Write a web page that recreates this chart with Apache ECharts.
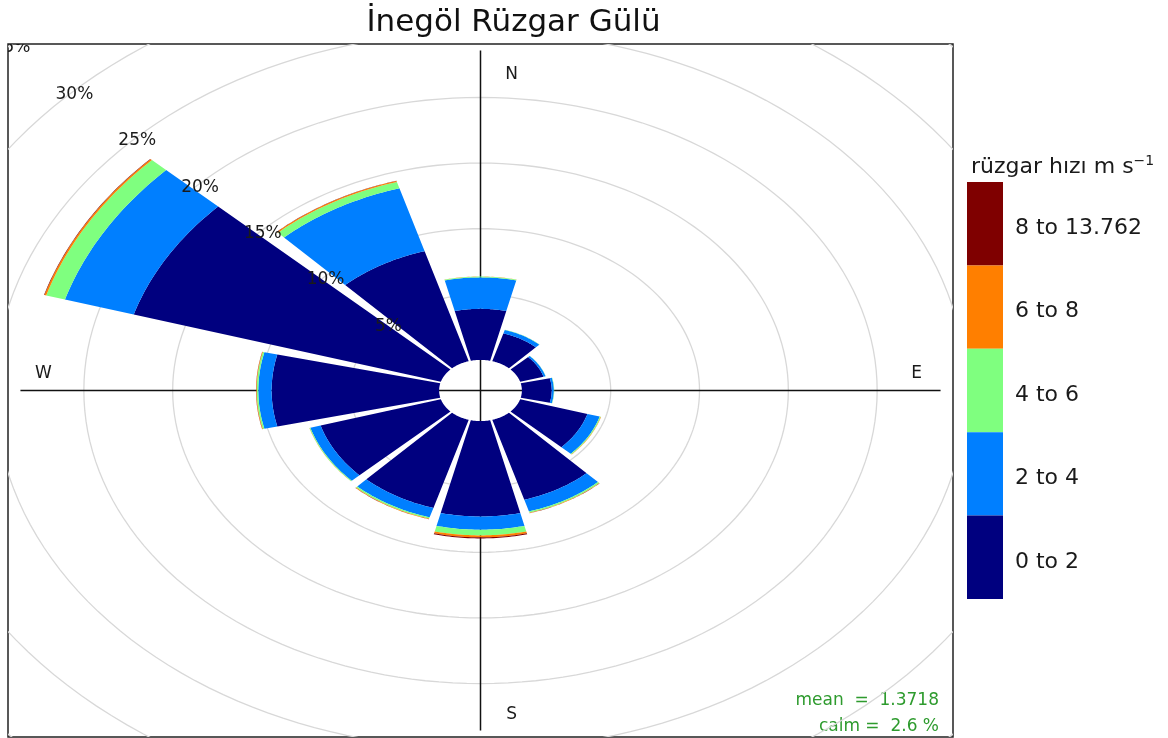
<!DOCTYPE html>
<html><head><meta charset="utf-8">
<script src="https://cdn.jsdelivr.net/npm/echarts@6/dist/echarts.min.js"></script>
<style>html,body{margin:0;padding:0;background:#fff}#c{width:1168px;height:738px}</style>
</head><body><div id="c"></div>
<script>
// ---------------- data ----------------
const directions = [0, 30, 60, 90, 120, 150, 180, 210, 240, 270, 300, 330];
const speedBands = ['0 to 2', '2 to 4', '4 to 6', '6 to 8', '8 to 13.762'];
const bandColors = ['#00007F', '#007FFF', '#7FFF7F', '#FF7F00', '#7F0000'];
// frequency (%) of each speed band per direction
const freq0to2 = [3.89, 2.20, 1.37, 1.68, 3.95, 6.35, 7.27, 7.00, 7.06, 9.43, 18.03, 8.74];
const freq2to4 = [2.40, 0.28, 0.12, 0.12, 0.72, 0.93, 1.01, 0.75, 0.60, 0.75, 4.04, 5.00];
const freq4to6 = [0.06, 0.02, 0.01, 0.02, 0.06, 0.10, 0.43, 0.10, 0.05, 0.09, 1.10, 0.50];
const freq6to8 = [0.01, 0.00, 0.00, 0.00, 0.02, 0.03, 0.15, 0.04, 0.01, 0.03, 0.10, 0.08];
const freq8up  = [0.00, 0.00, 0.00, 0.00, 0.00, 0.01, 0.08, 0.01, 0.00, 0.01, 0.03, 0.02];
const ringLevels = [5, 10, 15, 20, 25, 30, 35, 40];
const compassLabels = ['N', 'E', 'S', 'W'];
const meanSpeed = '1.3718';
const calmPercent = '2.6';
const chartTitle = 'İnegöl Rüzgar Gülü';
const legendTitle = 'rüzgar hızı m s';

// ---------------- layout constants ----------------
const HOLE = 2.33;        // size of the central hole, in % units
const HALF = 13.5;        // half angular width of a sector (deg)
const AXIS_LEN = 25.9;    // compass cross half length
const FONT = '"DejaVu Sans", "Liberation Sans", sans-serif';
const TXT_DY = 3;         // small vertical text nudge (px)
const rad = d => d * Math.PI / 180;

const bandFreqs = [freq0to2, freq2to4, freq4to6, freq6to8, freq8up];

// cumulative stacking
const cum = directions.map(() => 0);
const bandData = bandFreqs.map(arr => arr.map((v, i) => {
  const start = cum[i];
  cum[i] += v;
  return [i, start, cum[i]];
}));

function ringItem(params, api) {
  const r = api.value(0) + HOLE;
  const pts = [];
  for (let a = 0; a <= 360; a += 2) pts.push(api.coord([r * Math.sin(rad(a)), r * Math.cos(rad(a))]));
  return { type: 'polyline', shape: { points: pts }, style: { stroke: '#d8d8d8', lineWidth: 1.3, fill: null } };
}

function ringLabelItem(params, api) {
  const lvl = api.value(0);
  const r = lvl + HOLE;
  const p = api.coord([r * Math.sin(rad(315)), r * Math.cos(rad(315))]);
  return { type: 'text', x: p[0], y: p[1] + TXT_DY + 1,
    style: { text: lvl + '%', textAlign: 'center', textVerticalAlign: 'middle', font: '17px ' + FONT, fill: '#1a1a1a' } };
}

function axisItem(params, api) {
  const a = api.coord([-AXIS_LEN, 0]), b = api.coord([AXIS_LEN, 0]);
  const c = api.coord([0, AXIS_LEN]), d = api.coord([0, -AXIS_LEN]);
  const st = { stroke: '#111', lineWidth: 1.5 };
  return { type: 'group', children: [
    { type: 'line', shape: { x1: a[0], y1: a[1], x2: b[0], y2: b[1] }, style: st },
    { type: 'line', shape: { x1: c[0], y1: c[1], x2: d[0], y2: d[1] }, style: st }
  ] };
}

function compassItem(params, api) {
  const i = api.value(0);
  const pos = [[1.75, 24.3], [24.55, 1.55], [1.75, -24.45], [-24.6, 1.55]][i];
  const p = api.coord(pos);
  return { type: 'text', x: p[0], y: p[1] + TXT_DY,
    style: { text: compassLabels[i], textAlign: 'center', textVerticalAlign: 'middle', font: '17px ' + FONT, fill: '#1a1a1a' } };
}

function sectorItem(params, api) {
  const d = directions[api.value(0)];
  const r0 = api.value(1) + HOLE, r1 = api.value(2) + HOLE;
  if (r1 - r0 <= 0) return null;
  const n = 30, pts = [];
  for (let k = 0; k <= n; k++) {
    const a = rad(d - HALF + 2 * HALF * k / n);
    pts.push(api.coord([r1 * Math.sin(a), r1 * Math.cos(a)]));
  }
  for (let k = n; k >= 0; k--) {
    const a = rad(d - HALF + 2 * HALF * k / n);
    pts.push(api.coord([r0 * Math.sin(a), r0 * Math.cos(a)]));
  }
  return { type: 'polygon', shape: { points: pts }, style: { fill: api.visual('color'), stroke: null } };
}

const series = [
  { type: 'custom', name: 'rings', coordinateSystem: 'cartesian2d', clip: true, z: 1, silent: true,
    data: ringLevels.map(v => [v, 0]), renderItem: ringItem },
  { type: 'custom', name: 'axes', coordinateSystem: 'cartesian2d', clip: true, z: 2, silent: true,
    data: [[0, 0]], renderItem: axisItem },
  { type: 'custom', name: 'compass', coordinateSystem: 'cartesian2d', clip: true, z: 2, silent: true,
    data: compassLabels.map((c, i) => [i, 0]), renderItem: compassItem }
];
speedBands.forEach((name, b) => {
  series.push({ type: 'custom', name: name, coordinateSystem: 'cartesian2d', clip: true, z: 3, silent: true,
    itemStyle: { color: bandColors[b] }, data: bandData[b], renderItem: sectorItem });
});
series.push({ type: 'custom', name: 'ringLabels', coordinateSystem: 'cartesian2d', clip: true, z: 4, silent: true,
  data: ringLevels.map(v => [v, 0]), renderItem: ringLabelItem });

const chart = echarts.init(document.getElementById('c'), null, { renderer: 'canvas' });
chart.setOption({
  animation: false,
  backgroundColor: '#fff',
  grid: { left: 8, top: 44, width: 945, height: 693, show: true, borderColor: '#222', borderWidth: 1.5, backgroundColor: 'transparent' },
  xAxis: { type: 'value', min: -26.6, max: 26.6, show: false },
  yAxis: { type: 'value', min: -26.4, max: 26.4, show: false },
  legend: {
    orient: 'vertical', left: 967, top: 182, padding: 0, itemWidth: 36, itemHeight: 83.4, itemGap: 0,
    selectedMode: false, icon: 'rect',
    data: speedBands.slice().reverse().map(n => ({ name: n, itemStyle: { color: bandColors[speedBands.indexOf(n)] } })),
    formatter: n => '{t| ' + n + '}',
    textStyle: { fontFamily: FONT, fontSize: 22, color: '#1a1a1a',
      rich: { t: { fontFamily: FONT, fontSize: 22, color: '#1a1a1a', padding: [9, 0, 0, 0] } } }
  },
  graphic: [
    { type: 'text', x: 513.5, y: 23, style: { text: chartTitle, textAlign: 'center', textVerticalAlign: 'middle', font: '31px ' + FONT, fill: '#111' } },
    { type: 'text', x: 971, y: 167, style: { text: '{a|' + legendTitle + '}{b|−1}', textVerticalAlign: 'middle',
        rich: { a: { fontFamily: FONT, fontSize: 22, fill: '#1a1a1a', lineHeight: 26 },
                b: { fontFamily: FONT, fontSize: 14, fill: '#1a1a1a', verticalAlign: 'top', lineHeight: 26 } } } },
    { type: 'text', x: 939, y: 701, style: { text: 'mean  =  ' + meanSpeed, textAlign: 'right', textVerticalAlign: 'middle', font: '17px ' + FONT, fill: '#2E9B2E' } },
    { type: 'text', x: 939, y: 727, style: { text: 'calm =  ' + calmPercent + ' %', textAlign: 'right', textVerticalAlign: 'middle', font: '17px ' + FONT, fill: '#2E9B2E' } }
  ],
  series: series
});
</script>
</body></html>
